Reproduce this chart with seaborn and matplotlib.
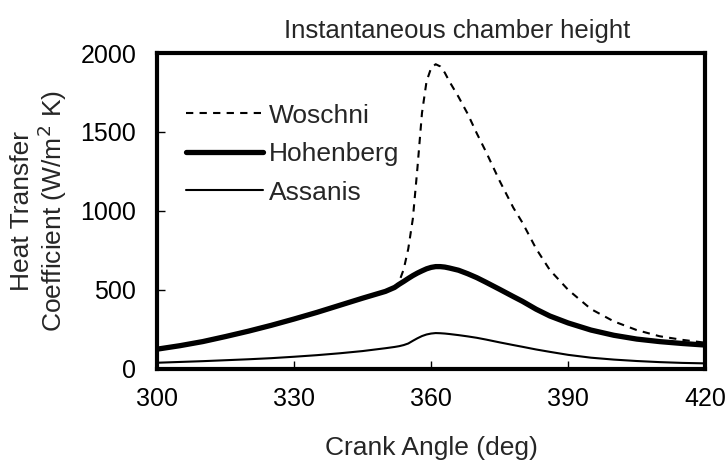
import numpy as np
import pandas as pd
import matplotlib
matplotlib.use("Agg")
import matplotlib.pyplot as plt
import seaborn as sns

# crank angle (deg) and heat transfer coefficient (W/m2 K)
angle = [300, 305, 310, 315, 320, 325, 330, 335, 340, 345, 350, 352, 353, 354, 355,
         356, 357, 358, 359, 360, 361, 362, 363, 364, 366, 368, 370, 372, 375, 378,
         380, 383, 386, 390, 395, 400, 405, 410, 415, 420]

woschni = [124, 146, 172, 204, 238, 275, 315, 357, 402, 447, 490, 515, 551, 630, 760,
           950, 1270, 1620, 1820, 1905, 1929, 1915, 1875, 1820, 1722, 1615, 1491, 1375, 1190, 1020,
           925, 760, 625, 500, 378, 300, 245, 206, 183, 165]

hohenberg = [124, 146, 172, 204, 238, 275, 315, 357, 402, 447, 490, 515, 535, 553, 572,
             590, 606, 620, 633, 642, 647, 647, 644, 638, 624, 602, 577, 548, 503, 457,
             427, 377, 334, 290, 245, 212, 188, 172, 160, 150]

assanis = [38, 43, 48, 54, 60, 67, 76, 86, 98, 112, 130, 138, 143, 150, 160,
           177, 193, 207, 217, 223, 226, 225, 223, 220, 213, 205, 196, 185, 167, 150,
           139, 122, 107, 88, 70, 58, 49, 42, 37, 34]

df = pd.DataFrame({"angle": angle, "Woschni": woschni,
                   "Hohenberg": hohenberg, "Assanis": assanis})

sns.set_style("white")
plt.rcParams['font.family'] = ['Liberation Sans', 'DejaVu Sans']

fig = plt.figure(figsize=(7.27, 4.65), dpi=100)
ax = fig.add_axes([0.216, 0.207, 0.754, 0.679])

sns.lineplot(data=df, x="angle", y="Woschni", ax=ax, color="black", lw=1.5,
             label="Woschni", linestyle=(0, (3.5, 3)))
sns.lineplot(data=df, x="angle", y="Hohenberg", ax=ax, color="black", lw=3.8,
             label="Hohenberg")
sns.lineplot(data=df, x="angle", y="Assanis", ax=ax, color="black", lw=1.5,
             label="Assanis")

ax.set_xlim(300, 420)
ax.set_ylim(0, 2000)
ax.set_xticks([300, 330, 360, 390, 420])
ax.set_yticks([0, 500, 1000, 1500, 2000])
ax.tick_params(direction="in", length=6, width=1, labelsize=18,
               bottom=True, left=True, colors="black")
ax.tick_params(axis="x", pad=13)
ax.tick_params(axis="y", pad=15)
for s in ax.spines.values():
    s.set_linewidth(3)
    s.set_color("black")

ax.set_xlabel("Crank Angle (deg)", fontsize=19, labelpad=18)
ax.set_ylabel("Heat Transfer\nCoefficient (W/m$^2$ K)", fontsize=19, labelpad=8,
              linespacing=1.05)
ax.set_title("Instantaneous chamber height", fontsize=18.5, x=0.547, pad=11)

ax.legend(loc="upper left", frameon=False, fontsize=19, handlelength=2.9,
          handletextpad=0.23, labelspacing=0.55, borderpad=0, borderaxespad=0,
          bbox_to_anchor=(0.053, 0.84))

fig.savefig("out.png", dpi=100)
